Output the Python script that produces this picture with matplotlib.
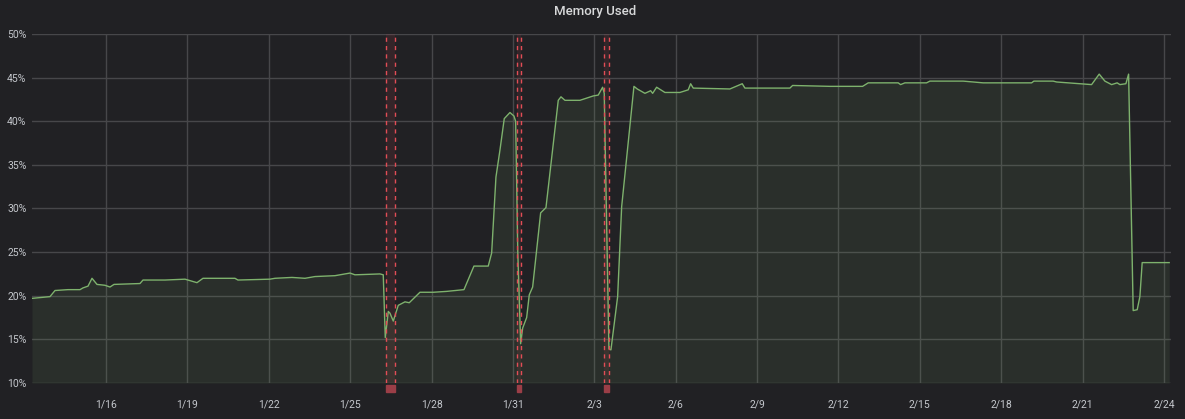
import matplotlib
matplotlib.use('Agg')
import matplotlib.pyplot as plt
import matplotlib.dates as mdates
import matplotlib.transforms as mtransforms
from matplotlib.patches import Rectangle
import pandas as pd

# days since 2021-01-16 00:00, memory used in %
day = [-2.728, -2.064, -1.880, -1.401, -0.958, -0.848, -0.663, -0.516, -0.332, -0.037,
       0.147, 0.295, 1.253, 1.364, 2.175, 2.912, 3.354, 3.575, 4.755, 4.865,
       6.045, 6.229, 6.856, 7.335, 7.704, 8.441, 8.994, 9.178, 10.100, 10.221,
       10.295, 10.406, 10.468, 10.590, 10.774, 11.021, 11.180, 11.574, 12.064, 12.558,
       13.196, 13.564, 14.091, 14.217, 14.375, 14.523, 14.681, 14.891, 15.039, 15.101,
       15.180, 15.286, 15.360, 15.507, 15.603, 15.728, 16.023, 16.219, 16.672, 16.772,
       16.919, 17.472, 17.962, 18.146, 18.308, 18.367, 18.540, 18.614, 18.861, 19.009,
       19.462, 19.584, 19.868, 20.078, 20.152, 20.298, 20.604, 21.157, 21.463, 21.552,
       21.648, 23.000, 23.454, 23.553, 25.212, 25.311, 26.686, 27.892, 28.098, 29.204,
       29.292, 29.451, 30.250, 30.372, 31.600, 32.337, 33.443, 34.121, 34.206, 34.917,
       35.043, 36.333, 36.613, 36.823, 37.070, 37.276, 37.376, 37.597, 37.697, 37.866,
       38.014, 38.113, 38.198, 38.666, 39.193]
used = [19.7, 19.9, 20.6, 20.7, 20.7, 20.9, 21.1, 22.0, 21.3, 21.2,
        21.0, 21.3, 21.4, 21.8, 21.8, 21.9, 21.5, 22.0, 22.0, 21.8,
        21.9, 22.0, 22.1, 22.0, 22.2, 22.3, 22.6, 22.4, 22.5, 22.4,
        15.2, 18.2, 18.0, 17.1, 18.9, 19.3, 19.2, 20.4, 20.4, 20.5,
        20.7, 23.4, 23.4, 24.9, 33.6, 36.7, 40.3, 41.0, 40.6, 40.0,
        25.0, 14.5, 16.3, 17.5, 20.1, 21.0, 29.5, 30.1, 42.4, 42.8,
        42.4, 42.4, 42.9, 43.0, 43.9, 43.2, 13.9, 13.8, 19.9, 30.2,
        44.0, 43.7, 43.2, 43.5, 43.2, 43.9, 43.3, 43.3, 43.6, 44.3,
        43.8, 43.7, 44.3, 43.8, 43.8, 44.1, 44.0, 44.0, 44.4, 44.4,
        44.2, 44.4, 44.4, 44.6, 44.6, 44.4, 44.4, 44.4, 44.6, 44.6,
        44.5, 44.2, 45.4, 44.6, 44.2, 44.4, 44.2, 44.3, 45.4, 18.3,
        18.4, 19.9, 23.8, 23.8, 23.8]

# annotation regions (days since 2021-01-16)
region_start = [10.321, 15.160, 18.367]
region_end = [10.663, 15.286, 18.529]

y_ticks = [10, 15, 20, 25, 30, 35, 40, 45, 50]
tick_days = [0, 3, 6, 9, 12, 15, 18, 21, 24, 27, 30, 33, 36, 39]

base = pd.Timestamp('2021-01-16')
times = base + pd.to_timedelta(day, unit='D')

bg = '#212124'
text_color = '#c4c7cc'
grid_color = '#47474a'
line_color = '#7eb26d'
red = '#e24d56'

plt.rcParams['font.family'] = ['Roboto', 'DejaVu Sans']

fig = plt.figure(figsize=(11.85, 4.19), dpi=100, facecolor=bg)
ax = fig.add_axes([32 / 1185, 36 / 419, 1139 / 1185, 349 / 419])
ax.set_facecolor(bg)

ax.fill_between(times, used, 10, color=line_color, alpha=0.1, linewidth=0, zorder=2)
ax.plot(times, used, color=line_color, linewidth=1, zorder=3)

# annotations
trans = mtransforms.blended_transform_factory(ax.transData, ax.transAxes)
for s, e in zip(region_start, region_end):
    t0 = mdates.date2num(base + pd.Timedelta(days=s))
    t1 = mdates.date2num(base + pd.Timedelta(days=e))
    ax.axvspan(t0, t1, color=red, alpha=0.1, linewidth=0, zorder=1)
    for t in (t0, t1):
        ax.axvline(t, color=red, linewidth=1, linestyle=(0, (3, 3)), zorder=4)
    ax.add_patch(Rectangle((t0, -0.025), t1 - t0, 0.019, transform=trans,
                           color='#9b3e47', clip_on=False, zorder=5))

ax.set_ylim(10, 50)
ax.set_yticks(y_ticks)
ax.set_yticklabels(['{0}%'.format(v) for v in y_ticks])
ax.set_xlim(base + pd.Timedelta(days=-2.728), base + pd.Timedelta(days=39.26))
ax.set_xticks([base + pd.Timedelta(days=d) for d in tick_days])
ax.xaxis.set_major_formatter(mdates.DateFormatter('%-m/%-d'))

ax.grid(True, color=grid_color, linewidth=1)
ax.set_axisbelow(True)
for sp in ax.spines.values():
    sp.set_visible(False)
ax.tick_params(axis='both', length=0, colors=text_color, labelsize=7.5)
ax.tick_params(axis='x', pad=12)
ax.tick_params(axis='y', pad=4)

fig.text(0.502, 1 - 11 / 419, 'Memory Used', color='#d8d9da', fontsize=9.5,
         fontweight='medium', ha='center', va='center')

fig.savefig('out.png', dpi=100, facecolor=bg)
